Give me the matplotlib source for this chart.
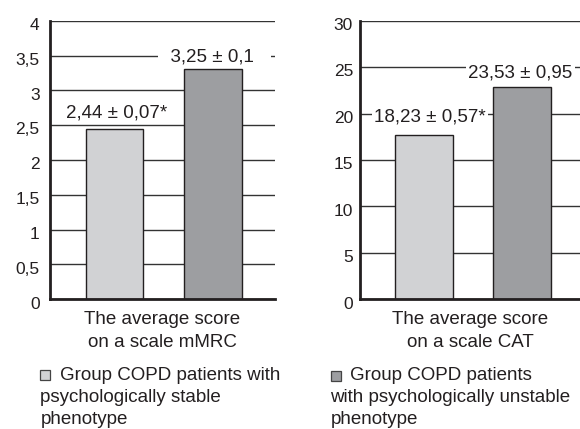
import matplotlib
matplotlib.use("Agg")
import matplotlib.pyplot as plt
from matplotlib.patches import Rectangle
from matplotlib.transforms import ScaledTranslation

plt.rcParams['font.family'] = ['Liberation Sans', 'DejaVu Sans']

groups = ["stable", "unstable"]
mmrc_values = [2.45, 3.30]
mmrc_labels = ["2,44 ± 0,07*", "  3,25 ± 0,1   "]
mmrc_ticks = [0, 0.5, 1, 1.5, 2, 2.5, 3, 3.5, 4]
mmrc_ticklabels = ["0", "0,5", "1", "1,5", "2", "2,5", "3", "3,5", "4"]
mmrc_xlabel = ["The average score", "on a scale mMRC"]

cat_values = [17.66, 22.83]
cat_labels = ["18,23 ± 0,57*", "23,53 ± 0,95"]
cat_ticks = [0, 5, 10, 15, 20, 25, 30]
cat_ticklabels = ["0", "5", "10", "15", "20", "25", "30"]
cat_xlabel = ["The average score", "on a scale CAT"]

legend_lines = [["Group COPD patients with", "psychologically stable", "phenotype"],
                ["Group COPD patients", "with psychologically unstable", "phenotype"]]

colors = ["#d1d2d4", "#9d9ea1"]
DARK = "#231f20"

W, H = 580, 429
fig = plt.figure(figsize=(W / 100, H / 100), dpi=100)
TXT = 13.5
TICK = 12.5

def fy(py):
    return 1 - py / H

def px_axes(x0, x1, ytop, ybot):
    return fig.add_axes([x0 / W, 1 - ybot / H, (x1 - x0) / W, (ybot - ytop) / H])

def draw_panel(ax, values, labels, ticks, ticklabels, xlabel, xlim, width,
               label_pos, pad, xcenter):
    ax.set_axisbelow(True)
    ax.bar(range(len(values)), values, width=width, color=colors,
           edgecolor=DARK, linewidth=1.0, zorder=2)
    ax.set_xlim(*xlim)
    ax.set_ylim(ticks[0], ticks[-1])
    ax.set_yticks(ticks)
    ax.set_yticklabels(ticklabels, fontsize=TICK, color=DARK)
    ax.set_xticks([])
    ax.tick_params(axis='y', length=0, pad=pad)
    off = ScaledTranslation(0, -3.3 / 100, fig.dpi_scale_trans)
    for lab in ax.get_yticklabels():
        lab.set_transform(lab.get_transform() + off)
    ax.yaxis.grid(True, color="#333333", linewidth=1.0)
    for s in ["top", "right"]:
        ax.spines[s].set_visible(False)
    for s in ["left", "bottom"]:
        ax.spines[s].set_linewidth(2.0)
        ax.spines[s].set_color(DARK)
        ax.spines[s].set_zorder(3)
    for (xx, yy), t in zip(label_pos, labels):
        ax.text(xx, yy, t, ha="center", va="baseline", fontsize=TXT, zorder=4,
                color=DARK,
                bbox=dict(facecolor="white", edgecolor="none", pad=1.5))
    for j, line in enumerate(xlabel):
        fig.text(xcenter / W, fy(324 + 23 * j), line, ha="center", va="baseline",
                 fontsize=TXT, color=DARK)

ax1 = px_axes(50, 275, 20.7, 299.3)
draw_panel(ax1, mmrc_values, mmrc_labels, mmrc_ticks, mmrc_ticklabels, mmrc_xlabel,
           (-0.655, 1.63), 0.58, [(0.02, 2.617), (1.015, 3.41)], 7.5, 162.5)

ax2 = px_axes(360, 580, 20.7, 299.3)
draw_panel(ax2, cat_values, cat_labels, cat_ticks, cat_ticklabels, cat_xlabel,
           (-0.66, 1.6), 0.595, [(0.06, 19.1), (0.99, 23.93)], 5.0, 470)

# legends
leg_layout = [(40, 369.5, 60.5, 40.5), (331, 370.5, 350, 330.5)]
for i, (sqx, sqy, tx, rx) in enumerate(leg_layout):
    fig.patches.append(Rectangle((sqx / W, fy(sqy + 10)), 10 / W, 10 / H,
                                 transform=fig.transFigure, facecolor=colors[i],
                                 edgecolor="#444444", linewidth=0.9))
    for j, line in enumerate(legend_lines[i]):
        fig.text((tx if j == 0 else rx) / W, fy(380 + 22 * j), line, fontsize=TXT,
                 va="baseline", ha="left", color=DARK)

fig.savefig("out.png", dpi=100)
